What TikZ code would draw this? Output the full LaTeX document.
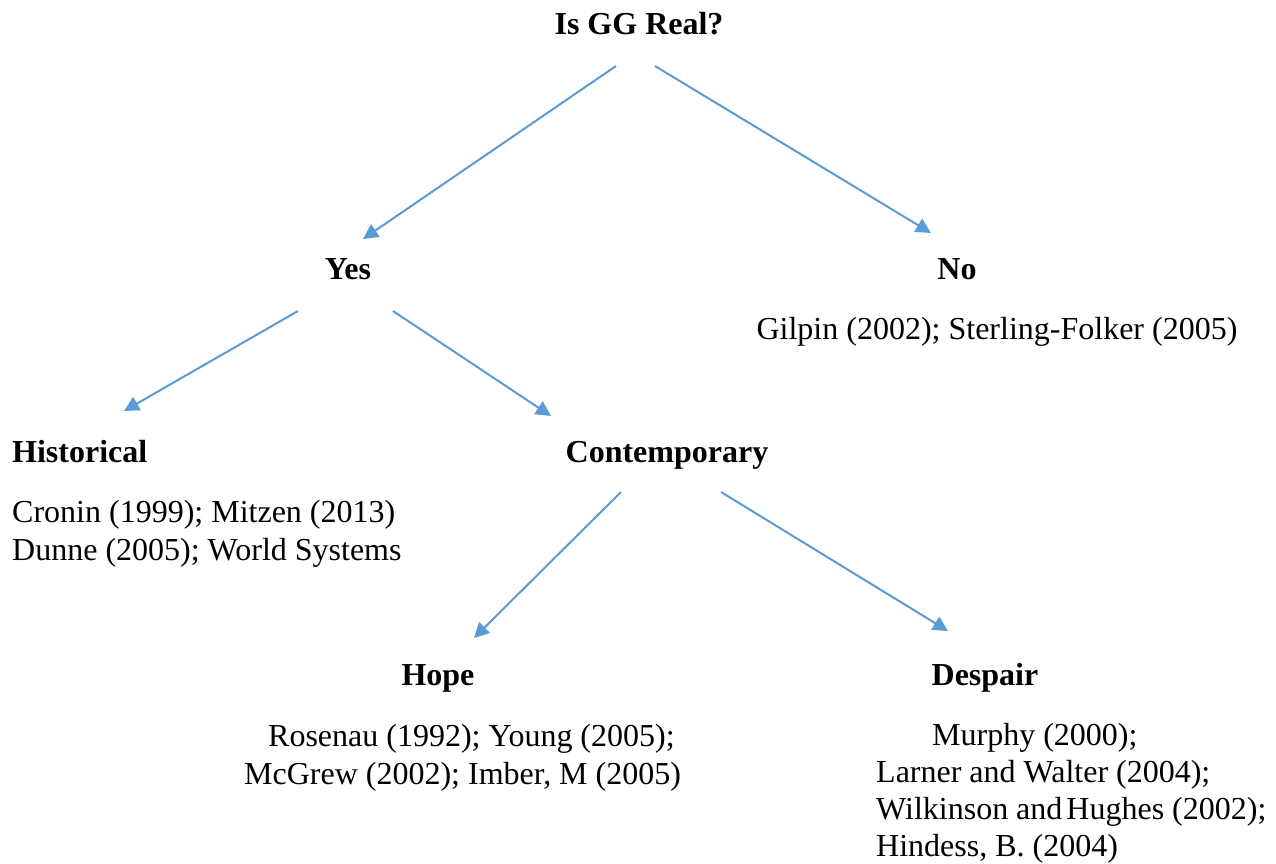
\documentclass[tikz,border=0pt]{standalone}
\usepackage{fontspec}
\setmainfont{Liberation Serif}
\usetikzlibrary{arrows.meta}
\definecolor{arrowblue}{RGB}{91,155,213}
\begin{document}
\begin{tikzpicture}[x=1pt,y=-1pt,
  txt/.style={inner sep=0pt, font=\fontsize{32}{38.4}\selectfont},
  head/.style={inner sep=0pt, font=\fontsize{32}{38.4}\selectfont\bfseries},
  link/.style={arrowblue, line width=2pt, -{Triangle[length=15pt,width=15pt]}}]
\useasboundingbox (0,0) rectangle (1276,863);
% headings
\node[head, anchor=base] (q) at (639,34) {Is GG Real?};
\node[head, anchor=base] (yes) at (348,279) {Yes};
\node[head, anchor=base] (no) at (957,279) {No};
\node[head, anchor=base west] (hist) at (12,462) {Historical};
\node[head, anchor=base] (cont) at (667,462) {Contemporary};
\node[head, anchor=base] (hope) at (438,685) {Hope};
\node[head, anchor=base] (despair) at (985,685) {Despair};
% references
\node[txt, anchor=base] (no1) at (997,339) {Gilpin (2002); Sterling-Folker (2005)};
\node[txt, anchor=base west] (hist1) at (12,522) {Cronin (1999); Mitzen (2013)};
\node[txt, anchor=base west] (hist2) at (12,560) {Dunne (2005); World Systems};
\node[txt, anchor=base west] (hope1) at (268,746) {Rosenau (1992); Young (2005);};
\node[txt, anchor=base west] (hope2) at (244,784) {McGrew (2002); Imber, M (2005)};
\node[txt, anchor=base west] (desp1) at (932,745) {Murphy (2000);};
\node[txt, anchor=base west] (desp2) at (876,782) {Larner and Walter (2004);};
\node[txt, anchor=base west] (desp3) at (876,819) {Wilkinson and\hspace{-4pt} Hughes (2002);};
\node[txt, anchor=base west] (desp4) at (876,856) {Hindess, B. (2004)};
% connector ends
\coordinate (q-l) at (616,66);
\coordinate (q-r) at (655,66);
\coordinate (yes-in) at (363,239);
\coordinate (no-in) at (931,233);
\coordinate (yes-l) at (298,311);
\coordinate (yes-r) at (393,311);
\coordinate (hist-in) at (124,411);
\coordinate (cont-in) at (551,416);
\coordinate (cont-l) at (621,492);
\coordinate (cont-r) at (721,492);
\coordinate (hope-in) at (474,638);
\coordinate (despair-in) at (948,631);
% connectors
\draw[link] (q-l) -- (yes-in);
\draw[link] (q-r) -- (no-in);
\draw[link] (yes-l) -- (hist-in);
\draw[link] (yes-r) -- (cont-in);
\draw[link] (cont-l) -- (hope-in);
\draw[link] (cont-r) -- (despair-in);
\end{tikzpicture}
\end{document}
